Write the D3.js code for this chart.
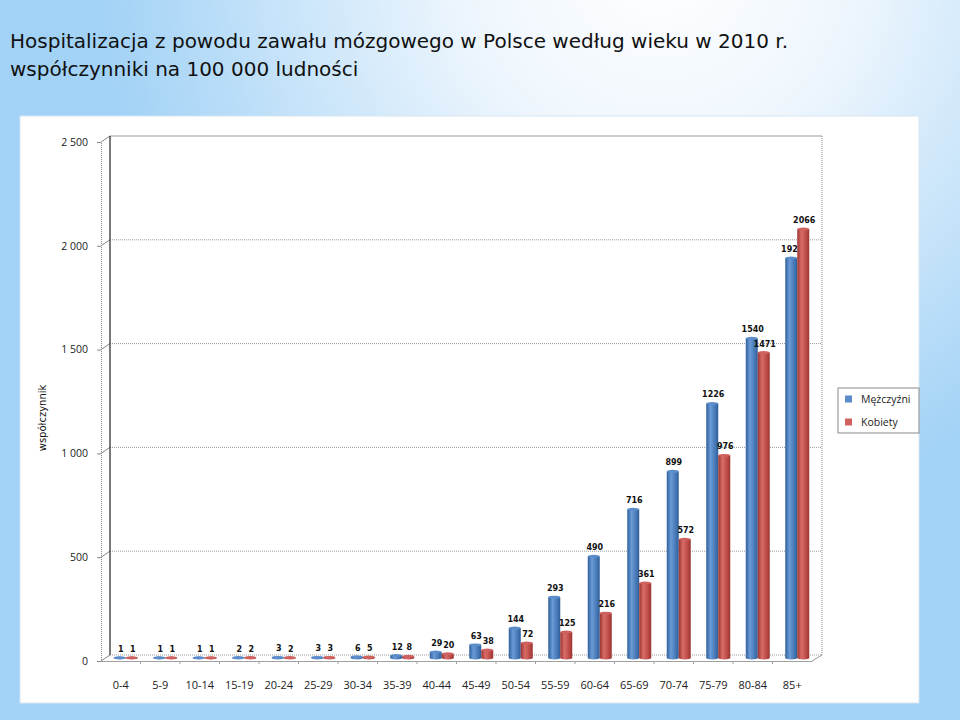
<!DOCTYPE html>
<html><head><meta charset="utf-8">
<script src="https://cdn.jsdelivr.net/npm/d3@7"></script>
<style>html,body{margin:0;padding:0;overflow:hidden}svg{display:block}</style>
</head><body>
<script>
const titleLines = ["Hospitalizacja z powodu zawału mózgowego w Polsce według wieku w 2010 r.", "współczynniki na 100 000 ludności"];
const categories = ["0-4","5-9","10-14","15-19","20-24","25-29","30-34","35-39","40-44","45-49","50-54","55-59","60-64","65-69","70-74","75-79","80-84","85+"];
const seriesNames = ["Mężczyźni","Kobiety"];
const men   = [1,1,1,2,3,3,6,12,29,63,144,293,490,716,899,1226,1540,1927];
const women = [1,1,1,2,2,3,5,8,20,38,72,125,216,361,572,976,1471,2066];
const yTicks = [0,500,1000,1500,2000,2500];
const yTickLabels = ["0","500","1 000","1 500","2 000","2 500"];
const yTitle = "współczynnik";

const W = 960, H = 720;
const svg = d3.select("body").append("svg").attr("width", W).attr("height", H);
const defs = svg.append("defs");

// background
const bg = defs.append("radialGradient").attr("id","bg").attr("gradientUnits","userSpaceOnUse")
  .attr("cx",660).attr("cy",-40).attr("r",560);
bg.append("stop").attr("offset","0%").attr("stop-color","#ffffff");
bg.append("stop").attr("offset","35%").attr("stop-color","#eef6fd");
bg.append("stop").attr("offset","100%").attr("stop-color","#a2d2f6");
svg.append("rect").attr("width",W).attr("height",H).attr("fill","url(#bg)");

// title
svg.append("g").selectAll("text").data(titleLines).join("text")
  .attr("x",10).attr("y",(d,i)=>48+i*28)
  .attr("font-family","DejaVu Sans").attr("font-size",20).attr("fill","#111")
  .text(d=>d);

// panel
svg.append("rect").attr("x",20).attr("y",116).attr("width",899).attr("height",587)
  .attr("fill","#ffffff").attr("stroke","#d6e6f2").attr("stroke-width",1);

// scales
const x = d3.scaleBand().domain(categories).range([101,812]);
const y = d3.scaleLinear().domain([0,2500]).range([661,142]);
const DX = 9, DY = -6;

const g = svg.append("g");
g.selectAll("line.grid").data(yTicks).join("line")
  .attr("x1",101+DX).attr("x2",812+DX+1)
  .attr("y1",d=>y(d)+DY).attr("y2",d=>y(d)+DY)
  .attr("stroke","#9a9a9a").attr("stroke-dasharray",d=>d===2500?null:"1,1").attr("stroke-width",1);
g.selectAll("line.diag").data(yTicks).join("line")
  .attr("x1",101).attr("x2",101+DX).attr("y1",d=>y(d)).attr("y2",d=>y(d)+DY)
  .attr("stroke","#888");
g.append("line").attr("x1",101+DX).attr("x2",101+DX).attr("y1",y(2500)+DY).attr("y2",y(0)+DY)
  .attr("stroke","#222").attr("stroke-width",1.2);
g.append("line").attr("x1",812+DX+1).attr("x2",812+DX+1).attr("y1",y(2500)+DY).attr("y2",y(0)+DY)
  .attr("stroke","#888").attr("stroke-dasharray","1,1");
g.append("line").attr("x1",812).attr("x2",812+DX+1).attr("y1",y(0)).attr("y2",y(0)+DY).attr("stroke","#999");

// front y axis
const yAxis = d3.axisLeft(y).tickValues(yTicks).tickFormat((d,i)=>yTickLabels[i]).tickSize(4).tickPadding(9);
const ya = svg.append("g").attr("transform","translate(101,0)").call(yAxis);
ya.select(".domain").attr("stroke","#888").attr("stroke-dasharray","1,1");
ya.selectAll(".tick line").attr("stroke","#888");
ya.selectAll("text").attr("font-family","Open Sans").attr("font-size",10.5).attr("fill","#222");

// front floor x axis
const xAxis = d3.axisBottom(x).tickSize(0).tickPadding(20);
const xa = svg.append("g").attr("transform",`translate(0,${y(0)})`).call(xAxis);
xa.select(".domain").attr("stroke","#a0a0a0");
xa.selectAll("text").attr("font-family","Open Sans").attr("font-size",11).attr("fill","#222");
xa.selectAll("line.bnd").data(categories.slice(1)).join("line").attr("class","bnd")
  .attr("x1",d=>x(d)).attr("x2",d=>x(d)).attr("y1",0).attr("y2",3).attr("stroke","#a0a0a0");

// bar gradients
function cyl(id, dark, mid, light){
  const lg = defs.append("linearGradient").attr("id",id).attr("x1","0%").attr("x2","100%");
  lg.append("stop").attr("offset","0%").attr("stop-color",dark);
  lg.append("stop").attr("offset","35%").attr("stop-color",light);
  lg.append("stop").attr("offset","70%").attr("stop-color",mid);
  lg.append("stop").attr("offset","100%").attr("stop-color",dark);
}
cyl("gBlue","#2f5f9a","#4a7cba","#6a9bd6");
cyl("gRed","#9a3431","#c04e4b","#d86c68");

const BW = 12;
const series = [
  {name:seriesNames[0], values:men, fill:"url(#gBlue)", top:"#5d8ccb", off:-BW},
  {name:seriesNames[1], values:women, fill:"url(#gRed)", top:"#cf625f", off:0}
];
const bx = (c, s) => x(c) + x.bandwidth()/2 + 5 + s.off;
const bars = svg.append("g");
series.forEach(s=>{
  const sg = bars.append("g");
  const data = categories.map((c,i)=>({c, v:s.values[i]}));
  sg.selectAll("rect").data(data).join("rect")
    .attr("x",d=>bx(d.c,s)).attr("width",BW)
    .attr("y",d=>y(d.v)-3).attr("height",d=>Math.max(0,y(0)-y(d.v)))
    .attr("fill",s.fill);
  sg.selectAll("ellipse.b").data(data).join("ellipse").attr("class","b")
    .attr("cx",d=>bx(d.c,s)+BW/2).attr("cy",y(0)-3).attr("rx",BW/2).attr("ry",1.5).attr("fill",s.fill);
  sg.selectAll("ellipse.t").data(data).join("ellipse").attr("class","t")
    .attr("cx",d=>bx(d.c,s)+BW/2).attr("cy",d=>y(d.v)-3).attr("rx",BW/2).attr("ry",1.5).attr("fill",s.top);
  sg.selectAll("text").data(data).join("text")
    .attr("x",d=>bx(d.c,s)+BW/2+1).attr("y",d=>y(d.v)-9)
    .attr("text-anchor","middle").attr("font-family","DejaVu Sans").attr("font-weight","bold")
    .attr("font-size",8).attr("fill","#111").text(d=>d.v);
});

// y title
svg.append("text").attr("transform","translate(46,418) rotate(-90)").attr("text-anchor","middle")
  .attr("font-family","DejaVu Sans").attr("font-size",10).attr("fill","#111").text(yTitle);

// legend
const lg = svg.append("g").attr("transform","translate(838,388)");
lg.append("rect").attr("width",81).attr("height",45).attr("fill","#fff").attr("stroke","#8a8a8a");
const li = lg.selectAll("g").data(series).join("g").attr("transform",(d,i)=>`translate(7,${11+i*23})`);
li.append("rect").attr("x",0).attr("y",-3.5).attr("width",7).attr("height",7).attr("fill",d=>d.top);
li.append("text").attr("x",16).attr("y",0).attr("dy","0.35em").attr("font-family","Open Sans")
  .attr("font-size",10.5).attr("fill","#222").text(d=>d.name);
</script>
</body></html>
